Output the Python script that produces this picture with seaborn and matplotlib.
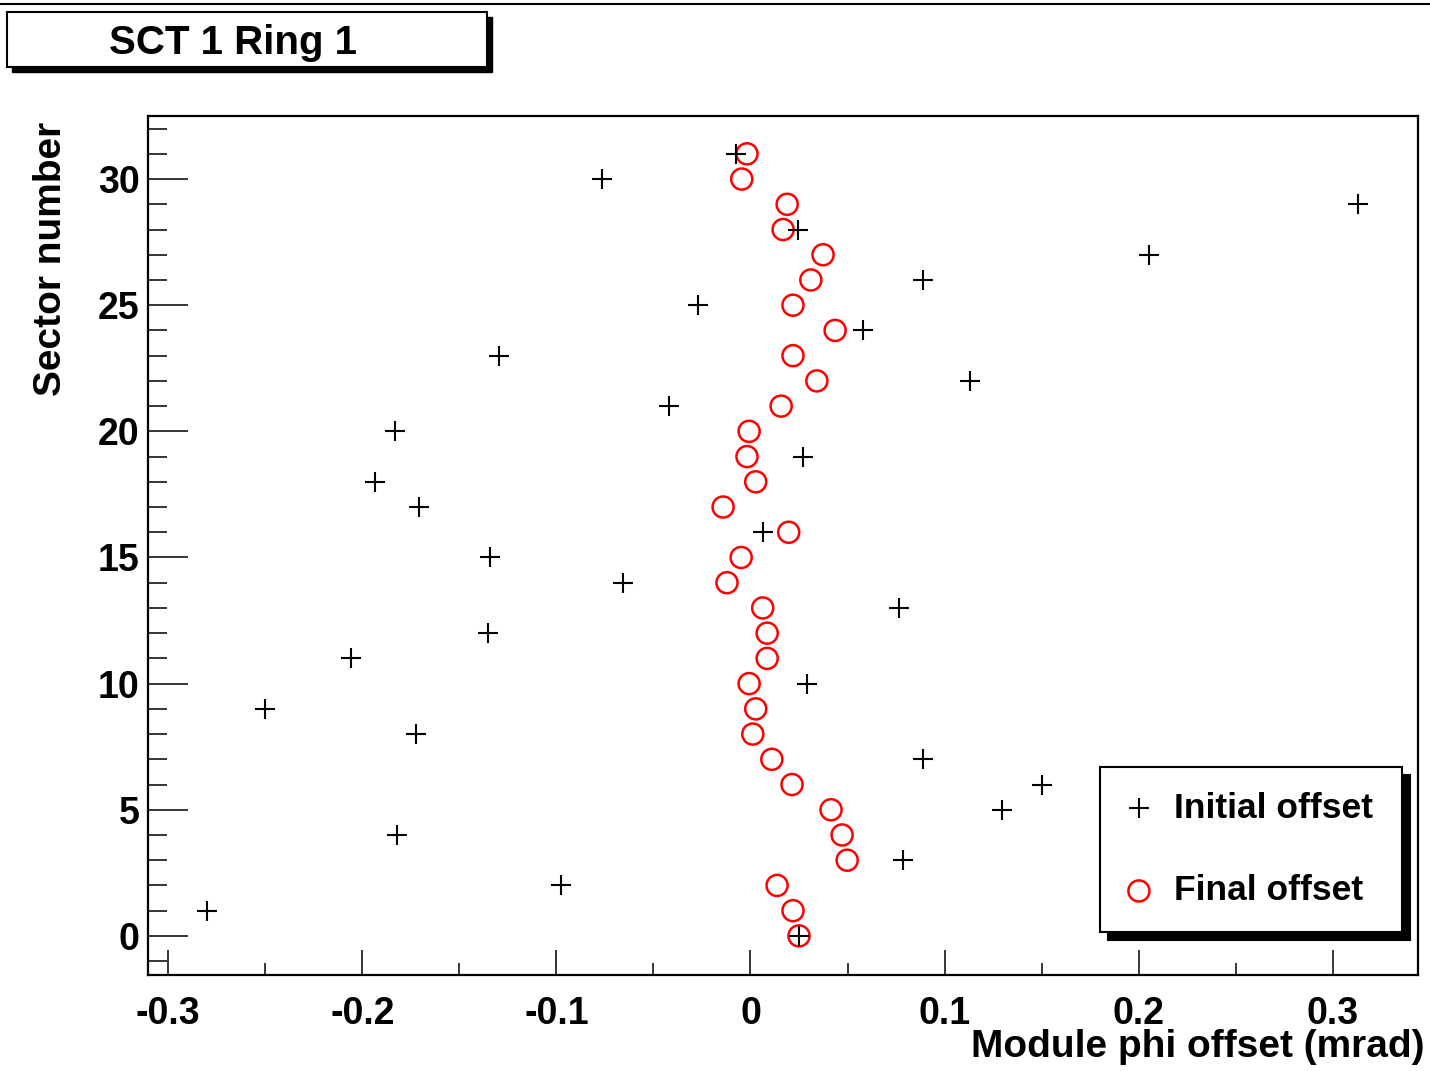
import numpy as np
import pandas as pd
import matplotlib
matplotlib.use("Agg")
import matplotlib.pyplot as plt
import seaborn as sns
from matplotlib.patches import Rectangle
from matplotlib.lines import Line2D
from matplotlib.ticker import MultipleLocator

# data
sectors = list(range(32))
initial_offset = [0.0250, -0.2800, -0.0976, 0.0786, -0.1821, 0.1296, 0.1502, 0.0889,
                  -0.1723, -0.2501, 0.0292, -0.2058, -0.1352, 0.0766, -0.0656, -0.1342,
                  0.0063, -0.1707, -0.1934, 0.0271, -0.1831, -0.0419, 0.1131, -0.1295,
                  0.0579, -0.0270, 0.0889, 0.2054, 0.0245, 0.3130, -0.0765, -0.0074]
final_offset = [0.0250, 0.0219, 0.0137, 0.0498, 0.0472, 0.0415, 0.0214, 0.0110,
                0.0012, 0.0027, -0.0007, 0.0086, 0.0086, 0.0063, -0.0121, -0.0048,
                0.0197, -0.0141, 0.0027, -0.0018, -0.0007, 0.0158, 0.0342, 0.0219,
                0.0436, 0.0219, 0.0311, 0.0374, 0.0168, 0.0189, -0.0045, -0.0018]
x_ticks = [-0.3, -0.2, -0.1, 0, 0.1, 0.2, 0.3]
x_tick_labels = ["-0.3", "-0.2", "-0.1", "0", "0.1", "0.2", "0.3"]
y_ticks = [0, 5, 10, 15, 20, 25, 30]

df = pd.DataFrame({"sector": sectors, "initial": initial_offset, "final": final_offset})

sns.set_style("ticks")
plt.rcParams['font.family'] = ['Liberation Sans', 'DejaVu Sans']
plt.rcParams['font.weight'] = 'bold'
plt.rcParams['text.color'] = 'black'
plt.rcParams['axes.labelcolor'] = 'black'
plt.rcParams['axes.edgecolor'] = 'black'
plt.rcParams['xtick.color'] = 'black'
plt.rcParams['ytick.color'] = 'black'

W, H = 1430, 1071
fig = plt.figure(figsize=(W / 100, H / 100), dpi=100)
ax = fig.add_axes([148 / W, 1 - 975 / H, (1418 - 148) / W, (975 - 116) / H])

#점 그리기
sns.scatterplot(data=df, x="initial", y="sector", marker="+", s=220, color="black",
                linewidth=1.5, label="Initial offset", ax=ax, zorder=3)
sns.scatterplot(data=df, x="final", y="sector", marker="o", s=230, facecolor="none",
                edgecolor="red", linewidth=1.8, label="Final offset", ax=ax, zorder=2)

ax.set_xlim(-0.3104, 0.3439)
ax.set_ylim(-1.55, 32.5)

#축 설정
ax.set_xticks(x_ticks)
ax.set_xticklabels(x_tick_labels)
ax.set_yticks(y_ticks)
ax.xaxis.set_minor_locator(MultipleLocator(0.05))
ax.yaxis.set_minor_locator(MultipleLocator(1))
ax.tick_params(axis="x", which="major", direction="in", length=18, width=1.1,
               labelsize=27, pad=15)
ax.tick_params(axis="x", which="minor", direction="in", length=9, width=1.1)
ax.tick_params(axis="y", which="major", direction="in", length=29, width=1.1,
               labelsize=27, pad=6)
ax.tick_params(axis="y", which="minor", direction="in", length=14, width=1.1)
for lab in ax.get_xticklabels() + ax.get_yticklabels():
    lab.set_fontweight("bold")
for sp in ax.spines.values():
    sp.set_visible(True)
    sp.set_linewidth(1.6)

ax.set_xlabel("Module phi offset (mrad)", fontsize=28, fontweight="bold", loc="right")
ax.xaxis.set_label_coords(1.0055, -0.063)
ax.set_ylabel("Sector number", fontsize=28, fontweight="bold", loc="top")
ax.yaxis.set_label_coords(-0.062, 0.993)

#범례
leg = ax.legend(loc="lower left", bbox_to_anchor=(0.7496, 0.050, 0.2378, 0.19),
                mode="expand", borderaxespad=0, fontsize=25.5, frameon=True,
                fancybox=False, handlelength=0.8, handletextpad=0.6,
                borderpad=0.7, labelspacing=1.4,
                shadow={"ox": 6, "oy": -6, "color": "black", "alpha": 1})
leg.get_frame().set_edgecolor("black")
leg.get_frame().set_linewidth(1.5)
for t in leg.get_texts():
    t.set_fontweight("bold")

#제목 상자
fig.add_artist(Line2D([0, 1], [1 - 4 / H, 1 - 4 / H], color="black", linewidth=1.5))
fig.add_artist(Rectangle((12 / W, 1 - 72 / H), 480 / W, 55 / H, facecolor="black",
                         edgecolor="black", transform=fig.transFigure))
fig.add_artist(Rectangle((7 / W, 1 - 67 / H), 480 / W, 55 / H, facecolor="white",
                         edgecolor="black", linewidth=1.5, transform=fig.transFigure))
fig.text(233 / W, 1 - 43 / H, "SCT 1 Ring 1", fontsize=29, fontweight="bold",
         ha="center", va="center")

fig.savefig("out.png", dpi=100)
